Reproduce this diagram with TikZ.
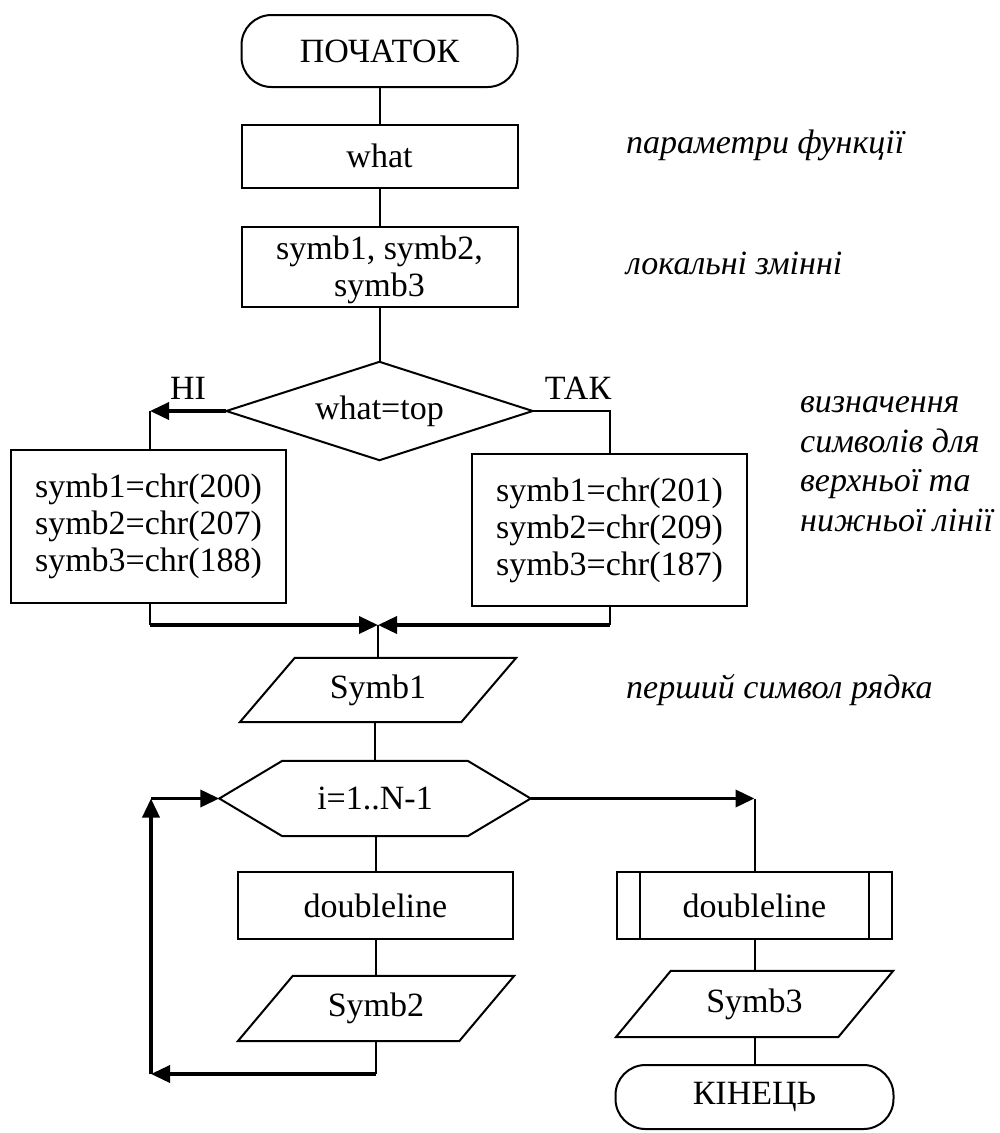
\documentclass[tikz,border=0pt]{standalone}
\usepackage{fontspec}
\setmainfont{Liberation Serif}
\usetikzlibrary{arrows.meta}

% outline of an input/output block drawn round a named frame node
\newcommand\ioframe[2]{%
  \draw[line] ([xshift=#2]#1.north west) -- ([xshift=#2]#1.north east)
    -- ([xshift=-#2]#1.south east) -- ([xshift=-#2]#1.south west) -- cycle;}

\begin{document}
\begin{tikzpicture}[x=1pt,y=-1pt,
  every node/.style={font=\fontsize{34}{37}\selectfont, inner sep=0pt, align=center},
  line/.style={line width=2pt},
  flow/.style={line width=3.6pt, -{Triangle[length=19pt,width=17pt]}},
  box/.style={draw, line width=2pt, minimum width=276pt},
  term/.style={draw, line width=2pt, rounded corners=30pt, minimum width=276pt},
  frame/.style={minimum width=#1},
  note/.style={font=\fontsize{34}{39.5}\selectfont\itshape, anchor=west, align=left}]
\useasboundingbox (0,0) rectangle (1000,1133);

% main column
\node[term, minimum height=72pt] (start) at (379.5,51) {ПОЧАТОК};
\node[box, minimum height=63pt] (what) at (379.5,156) {what};
\node[box, minimum height=80pt] (vars) at (379.5,267) {\rule{0pt}{30pt}symb1, symb2,\\symb3};

% decision
\node[frame=306pt, minimum height=98pt] (dec) at (379.5,411) {what=top};
\draw[line] (dec.north) -- (dec.east) -- (dec.south) -- (dec.west) -- cycle;
\node (no) at (188,388) {НІ};
\node (yes) at (578,388) {ТАК};

% branches
\node[box, minimum width=275pt, minimum height=153pt] (left) at (148.5,526.5)
  {symb1=chr(200)\\symb2=chr(207)\\symb3=chr(188)};
\node[box, minimum width=275pt, minimum height=152pt] (right) at (609.5,530)
  {symb1=chr(201)\\symb2=chr(209)\\symb3=chr(187)};

\coordinate (nocorner) at (150,411);
\coordinate (yescorner) at (609.5,411);
\coordinate (lj) at (150,625);
\coordinate (rj) at (609.5,625);
\coordinate (merge) at (378,625);

% first symbol output
\node[frame=221pt, minimum height=64pt] (s1) at (378,690) {Symb1};
\ioframe{s1}{27.5pt}

% loop header
\node[frame=311pt, minimum height=75pt] (loop) at (375,798.5) {i=1..N-1};
\draw[line] (loop.west) -- ([xshift=63pt]loop.north west) -- ([xshift=-63pt]loop.north east)
  -- (loop.east) -- ([xshift=-63pt]loop.south east) -- ([xshift=63pt]loop.south west) -- cycle;

% loop body
\node[box, minimum width=275pt, minimum height=67pt] (body) at (375.5,905.5) {doubleline};
\node[frame=221pt, minimum height=65pt] (s2) at (376,1008.5) {Symb2};
\ioframe{s2}{27.5pt}
\coordinate (lb) at (376,1074);
\coordinate (lbl) at (151,1074);
\coordinate (ltl) at (151,798.5);

% after the loop
\coordinate (exitc) at (754.5,798.5);
\node[box, minimum width=275pt, minimum height=67pt] (proc) at (754.5,905.5) {doubleline};
\draw[line] ([xshift=24pt]proc.north west) -- ([xshift=24pt]proc.south west);
\draw[line] ([xshift=-24pt]proc.north east) -- ([xshift=-24pt]proc.south east);
\node[frame=222pt, minimum height=66pt] (s3) at (754.5,1004) {Symb3};
\ioframe{s3}{27.5pt}
\node[term, minimum width=278pt, minimum height=64pt] (stop) at (754.5,1097) {КІНЕЦЬ};

% connectors
\draw[line] (start) -- (what);
\draw[line] (what) -- (vars);
\draw[line] (vars) -- (dec.north);
\draw[flow] (dec.west) -- (nocorner);
\draw[line] (nocorner) -- (left.north -| nocorner);
\draw[line] (dec.east) -- (yescorner) -- (right.north);
\draw[line] (left.south -| lj) -- (lj);
\draw[flow] (lj) -- (merge);
\draw[line] (right.south) -- (rj);
\draw[flow] (rj) -- (merge);
\draw[line] (merge) -- (s1.north -| merge);
\draw[line] (s1.south -| loop.north) -- (loop.north);
\draw[line] (loop.south -| body.north) -- (body.north);
\draw[line] (body.south -| s2.north) -- (s2.north);
\draw[line] (s2.south) -- (lb);
\draw[flow] (lb) -- (lbl);
\draw[flow] (lbl) -- (ltl);
\draw[flow] (ltl) -- (loop.west);
\draw[flow] (loop.east) -- (exitc);
\draw[line] (exitc) -- (proc.north -| exitc);
\draw[line] (proc.south -| s3.north) -- (s3.north);
\draw[line] (s3.south) -- (stop.north -| s3.south);

% comments beside the blocks
\node[note] (n1) at (626,145) {параметри функції};
\node[note] (n2) at (626,263) {локальні змінні};
\node[note] (n3) at (800,464) {визначення\\символів для\\верхньої та\\нижньої лінії};
\node[note] (n4) at (626,690) {перший символ рядка};
\end{tikzpicture}
\end{document}
